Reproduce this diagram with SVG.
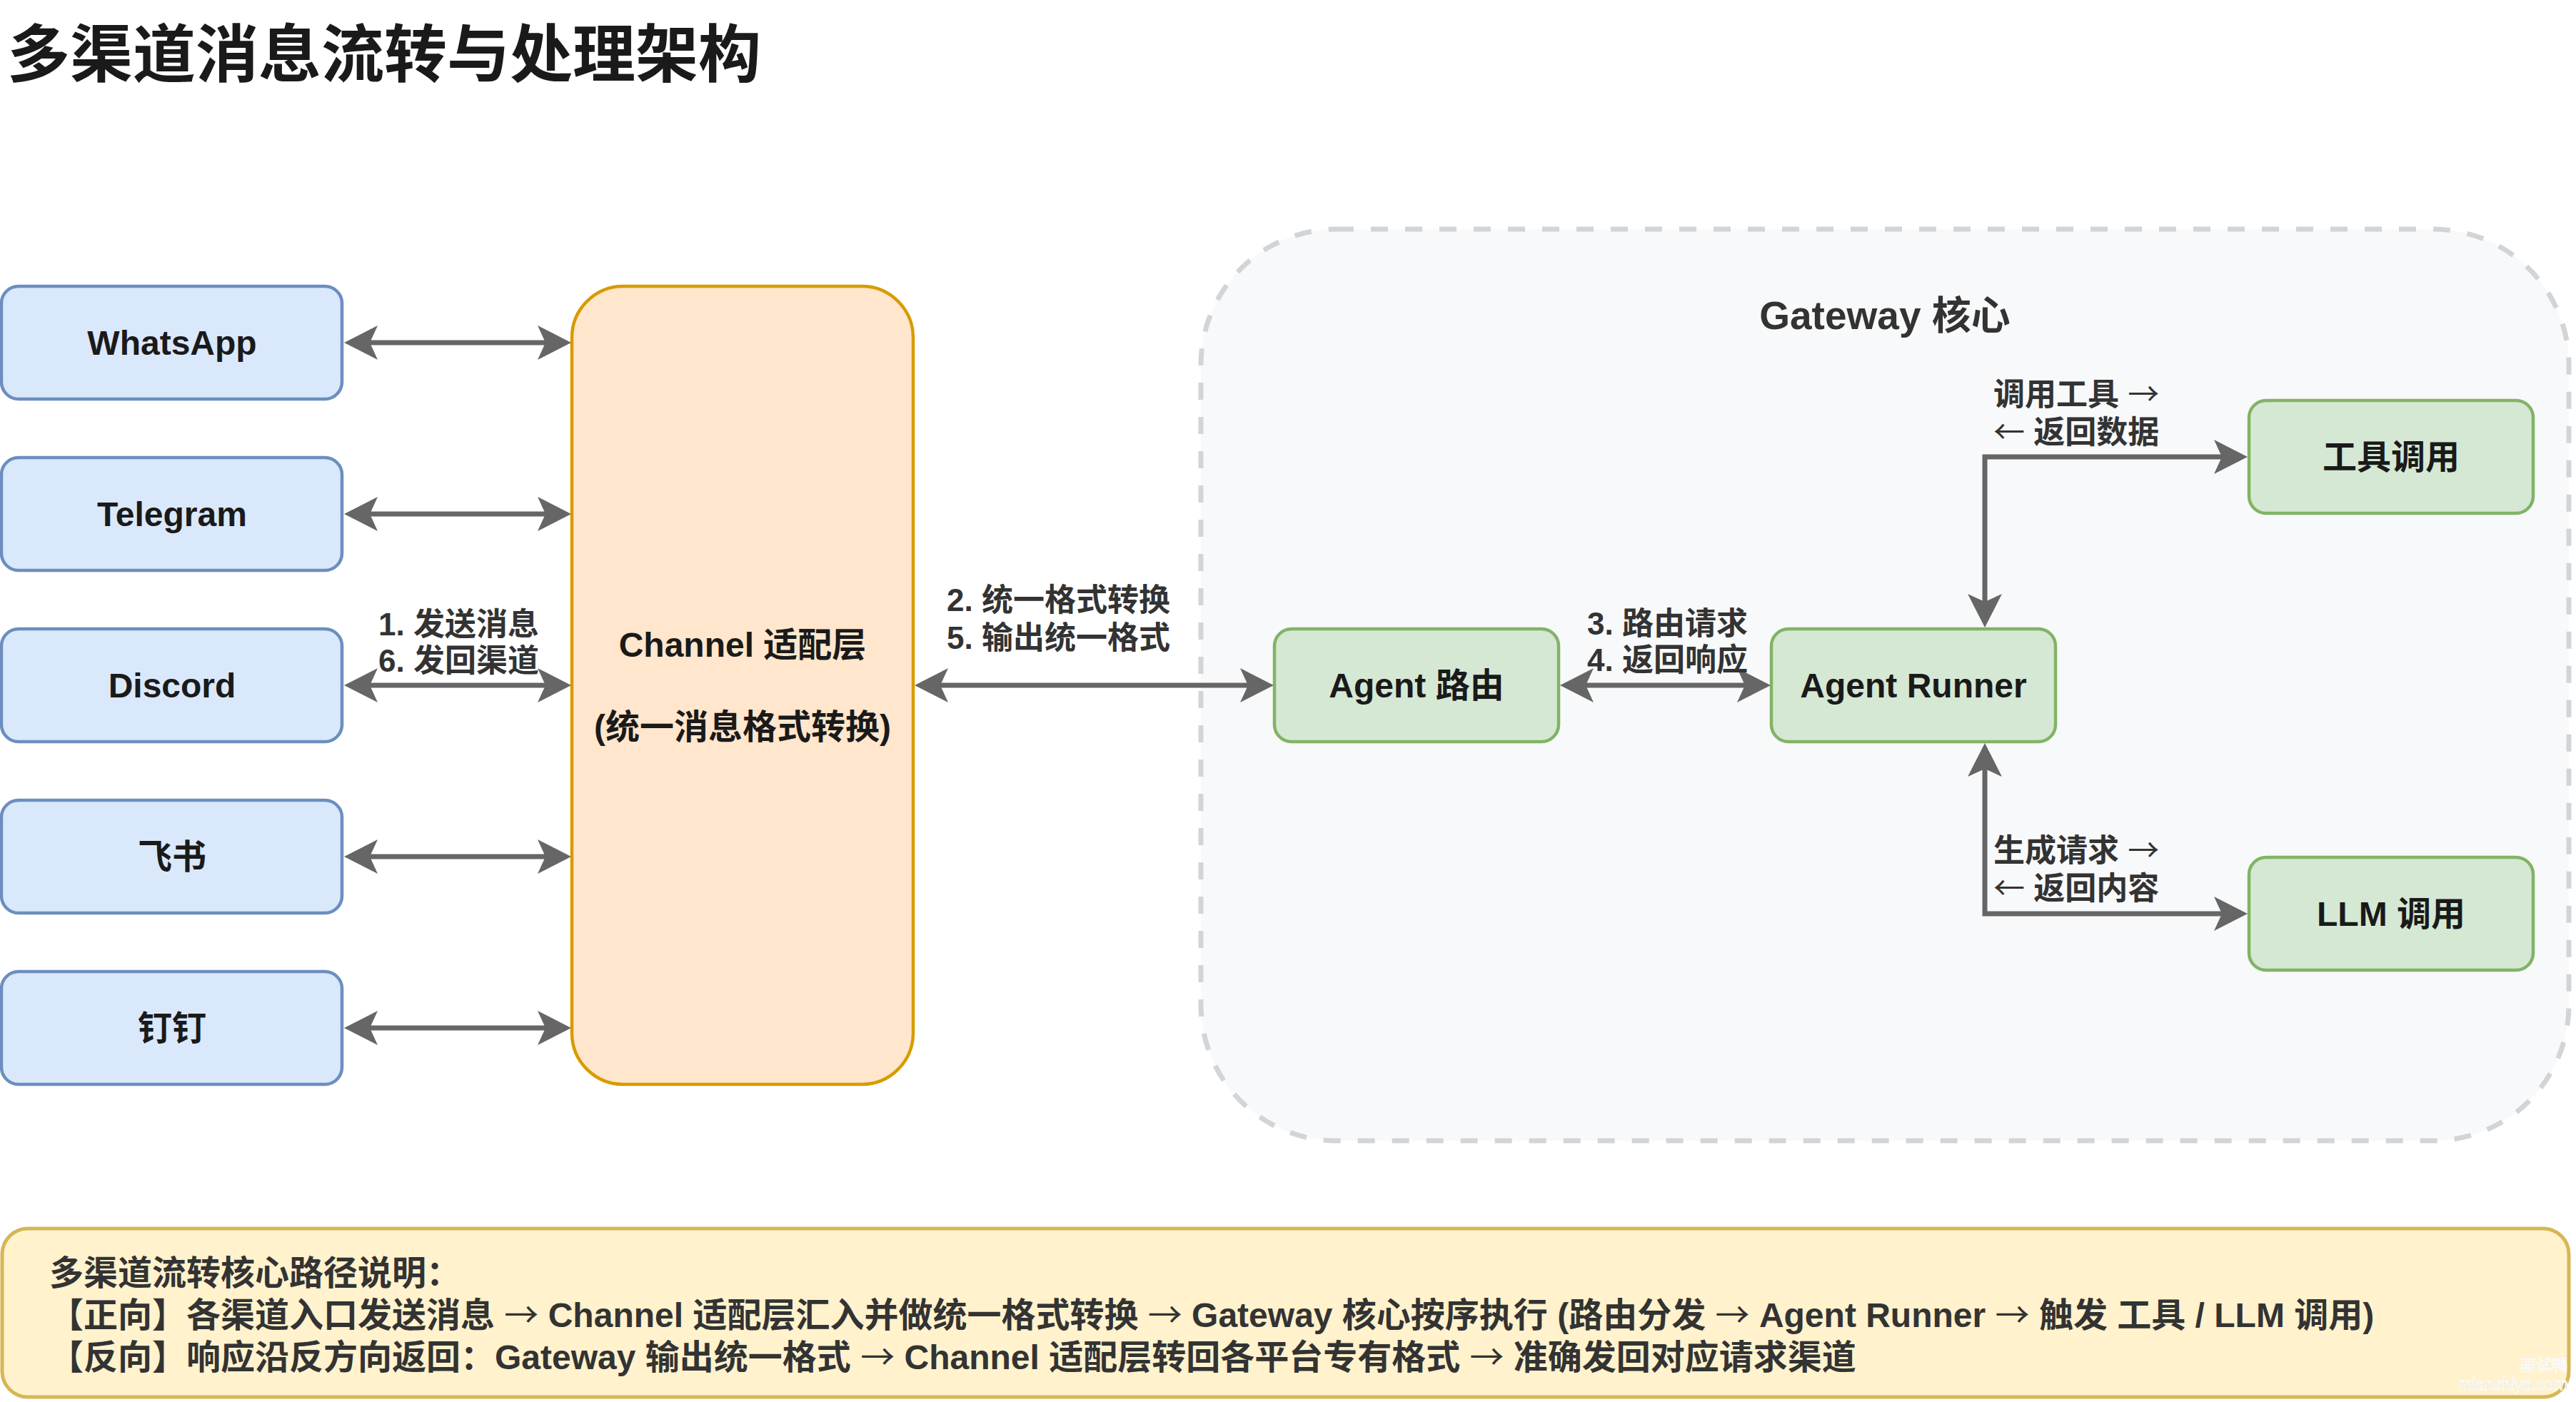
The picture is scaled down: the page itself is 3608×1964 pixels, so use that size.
<svg xmlns="http://www.w3.org/2000/svg" width="3608" height="1964" viewBox="0 0 3608 1964">
  <style>
    text { font-family: "Liberation Sans", "Noto Sans CJK SC", sans-serif; font-weight: bold; }
    .title { font-size: 88px; fill: #1a1a1a; }
    .node-text { font-size: 48px; fill: #1a1a1a; text-anchor: middle; }
    .label { font-size: 44px; fill: #333333; }
    .arr { font-family: "Noto Sans CJK SC", sans-serif; font-weight: normal; }
    .channel { fill: #dae8fc; stroke: #6c8ebf; stroke-width: 4.5; }
    .agent { fill: #d5e8d4; stroke: #82b366; stroke-width: 4.5; }
    .edge { fill: none; stroke: #666666; stroke-width: 7; stroke-linejoin: miter; marker-start: url(#arrow); marker-end: url(#arrow); }
    .note-text { font-size: 48px; fill: #333333; }
    .wm { font-weight: normal; fill: #dadada; stroke: #ffffff; stroke-width: 1; text-anchor: end; }
  </style>
  <defs>
    <marker id="arrow" markerUnits="userSpaceOnUse" markerWidth="48" markerHeight="50" viewBox="0 0 48 50" refX="11" refY="25" orient="auto-start-reverse">
      <path d="M0,1 L47,25 L0,49 L11,25 Z" fill="#666666"/>
    </marker>
  </defs>

  <rect width="3608" height="1964" fill="#ffffff"/>

  <text id="title" class="title" x="10" y="107">多渠道消息流转与处理架构</text>

  <g id="gateway-core">
    <rect x="1682" y="321" width="1916" height="1277" rx="190" ry="190" fill="#f8f9fa" stroke="#d2d5d8" stroke-width="7" stroke-dasharray="24 24"/>
    <text x="2640" y="461" style="font-size:55px; fill:#333333; text-anchor:middle;">Gateway 核心</text>
  </g>

  <g id="whatsapp">
    <rect class="channel" x="2" y="401" width="477" height="158" rx="24" ry="24"/>
    <text class="node-text" x="241" y="497">WhatsApp</text>
  </g>
  <g id="telegram">
    <rect class="channel" x="2" y="641" width="477" height="158" rx="24" ry="24"/>
    <text class="node-text" x="241" y="737">Telegram</text>
  </g>
  <g id="discord">
    <rect class="channel" x="2" y="881" width="477" height="158" rx="24" ry="24"/>
    <text class="node-text" x="241" y="977">Discord</text>
  </g>
  <g id="feishu">
    <rect class="channel" x="2" y="1121" width="477" height="158" rx="24" ry="24"/>
    <text class="node-text" x="241" y="1217">飞书</text>
  </g>
  <g id="dingtalk">
    <rect class="channel" x="2" y="1361" width="477" height="158" rx="24" ry="24"/>
    <text class="node-text" x="241" y="1457">钉钉</text>
  </g>

  <g id="channel-adapter">
    <rect x="801" y="401" width="478" height="1118" rx="72" ry="72" fill="#ffe6cc" stroke="#d79b00" stroke-width="4.5"/>
    <text class="node-text" x="1040" y="920">Channel 适配层</text>
    <text class="node-text" x="1040" y="1035">(统一消息格式转换)</text>
  </g>

  <g id="agent-router">
    <rect class="agent" x="1785" y="881" width="398" height="158" rx="24" ry="24"/>
    <text class="node-text" x="1984" y="977">Agent 路由</text>
  </g>
  <g id="agent-runner">
    <rect class="agent" x="2481" y="881" width="398" height="158" rx="24" ry="24"/>
    <text class="node-text" x="2680" y="977">Agent Runner</text>
  </g>
  <g id="tool-call">
    <rect class="agent" x="3150" y="561" width="398" height="158" rx="24" ry="24"/>
    <text class="node-text" x="3349" y="657">工具调用</text>
  </g>
  <g id="llm-call">
    <rect class="agent" x="3150" y="1201" width="398" height="158" rx="24" ry="24"/>
    <text class="node-text" x="3349" y="1297">LLM 调用</text>
  </g>

  <g id="connectors">
    <path class="edge" d="M518,480 L764,480"/>
    <path class="edge" d="M518,720 L764,720"/>
    <path class="edge" d="M518,960 L764,960"/>
    <path class="edge" d="M518,1200 L764,1200"/>
    <path class="edge" d="M518,1440 L764,1440"/>
    <path class="edge" d="M1317,960 L1748,960"/>
    <path class="edge" d="M2221,960 L2444,960"/>
    <path class="edge" d="M2780,843 L2780,640 L3112,640"/>
    <path class="edge" d="M2780,1077 L2780,1280 L3112,1280"/>

    <text class="label" x="530" y="890">1. 发送消息</text>
    <text class="label" x="530" y="941">6. 发回渠道</text>
    <text class="label" x="1326" y="856">2. 统一格式转换</text>
    <text class="label" x="1326" y="909">5. 输出统一格式</text>
    <text class="label" x="2223" y="889">3. 路由请求</text>
    <text class="label" x="2223" y="940">4. 返回响应</text>
    <text class="label" x="2792" y="568">调用工具 <tspan class="arr">→</tspan></text>
    <text class="label" x="2792" y="621"><tspan class="arr">←</tspan> 返回数据</text>
    <text class="label" x="2792" y="1207">生成请求 <tspan class="arr">→</tspan></text>
    <text class="label" x="2792" y="1260"><tspan class="arr">←</tspan> 返回内容</text>
  </g>

  <g id="note">
    <rect x="3" y="1721" width="3595" height="236" rx="36" ry="36" fill="#fff2cc" stroke="#d6b656" stroke-width="5"/>
    <text class="note-text" x="69" y="1800">多渠道流转核心路径说明：</text>
    <text class="note-text" x="69" y="1859">【正向】各渠道入口发送消息 <tspan class="arr">→</tspan> Channel 适配层汇入并做统一格式转换 <tspan class="arr">→</tspan> Gateway 核心按序执行 (路由分发 <tspan class="arr">→</tspan> Agent Runner <tspan class="arr">→</tspan> 触发 工具 / LLM 调用)</text>
    <text class="note-text" x="69" y="1918">【反向】响应沿反方向返回：Gateway 输出统一格式 <tspan class="arr">→</tspan> Channel 适配层转回各平台专有格式 <tspan class="arr">→</tspan> 准确发回对应请求渠道</text>
  </g>

  <g id="watermark">
    <text class="wm" x="3596" y="1920" style="font-size:22px;">面试鸭</text>
    <text class="wm" x="3597" y="1947" style="font-size:23px;">mianshiya.com</text>
  </g>
</svg>
